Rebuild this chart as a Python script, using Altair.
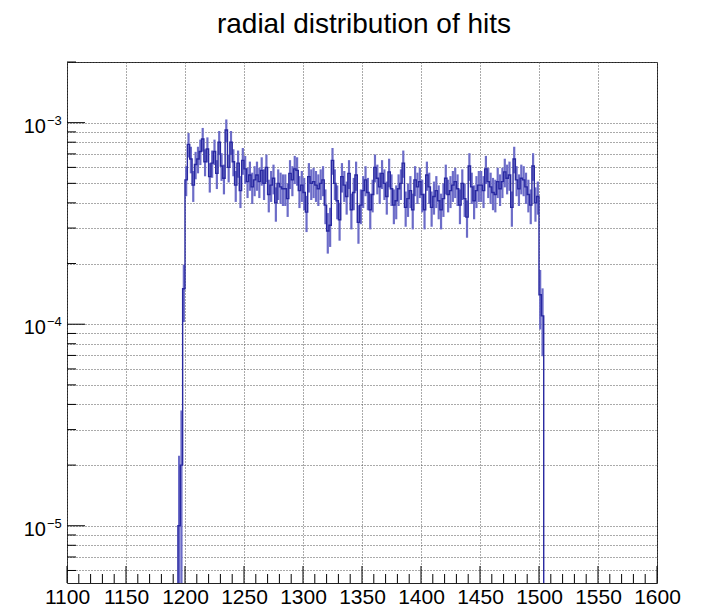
import altair as alt
import numpy as np
import pandas as pd

TITLE = "radial distribution of hits"

# histogram: bins of width 2 starting at 1194, contents in units of 1e-4
BIN_START = 1194.0
BIN_WIDTH = 2.0
UNIT = 1e-4
hits = [
    0.10, 0.20, 1.5,
    5.2, 7.8, 6.6, 4.9, 6.2, 6.6, 7.2, 8.3, 6.4, 7.4,
    5.4, 6.3, 7.2, 5.6, 8.0, 6.1, 5.3, 9.2, 6.0, 8.0,
    6.4, 4.9, 6.3, 4.6, 6.5, 5.9, 5.1, 5.5, 4.8, 5.2,
    5.5, 5.1, 5.8, 5.0, 6.0, 4.4, 4.9, 5.3, 4.0, 5.0,
    4.8, 4.7, 4.7, 4.2, 5.6, 5.2, 5.9, 5.8, 4.6, 4.9,
    4.5, 3.6, 5.4, 5.0, 5.1, 4.9, 4.7, 5.0, 5.2, 3.9,
    2.9, 3.1, 6.5, 5.0, 4.1, 3.3, 5.4, 4.9, 4.3, 5.6,
    3.7, 4.5, 5.5, 3.2, 3.9, 4.6, 5.2, 4.5, 3.7, 4.4,
    6.0, 5.3, 4.8, 5.6, 5.0, 4.3, 5.7, 4.7, 3.9, 4.1,
    4.7, 5.0, 6.3, 3.8, 4.2, 4.6, 3.7, 5.2, 4.8, 5.1,
    4.4, 3.7, 5.5, 4.8, 3.8, 4.3, 4.6, 4.1, 3.7, 4.2,
    5.3, 4.4, 4.6, 4.9, 5.1, 4.7, 3.9, 5.0, 4.2, 3.4,
    6.1, 4.8, 4.1, 4.6, 4.9, 4.9, 4.6, 5.9, 5.1, 4.8,
    4.5, 4.4, 5.1, 4.7, 5.1, 5.7, 5.3, 5.5, 3.8, 6.6,
    5.2, 4.7, 5.3, 5.2, 4.8, 4.4, 3.9, 6.1, 4.0, 4.3,
    1.4, 1.1,
]
HIT_WEIGHT = 1.5e-5   # per-hit normalisation, used for Poisson error bars
FLOOR = 1e-8          # below the axis range, clipped away

x_major = [1100, 1150, 1200, 1250, 1300, 1350, 1400, 1450, 1500, 1550, 1600]
x_minor = [1110, 1120, 1130, 1140, 1160, 1170, 1180, 1190, 1210, 1220, 1230, 1240,
           1260, 1270, 1280, 1290, 1310, 1320, 1330, 1340, 1360, 1370, 1380, 1390,
           1410, 1420, 1430, 1440, 1460, 1470, 1480, 1490, 1510, 1520, 1530, 1540,
           1560, 1570, 1580, 1590]
y_decades = [1e-3, 1e-4, 1e-5]
y_exponents = ["\u22123", "\u22124", "\u22125"]
y_minor = [6e-6, 7e-6, 8e-6, 9e-6,
           2e-5, 3e-5, 4e-5, 5e-5, 6e-5, 7e-5, 8e-5, 9e-5,
           2e-4, 3e-4, 4e-4, 5e-4, 6e-4, 7e-4, 8e-4, 9e-4, 2e-3]

W, H = 590, 521
FONT = "Liberation Sans"
LINE = "#2828a0"
ERR = "#6c6cc8"

xs = alt.Scale(domain=[1100, 1600], nice=False, zero=False)
ys = alt.Scale(type="log", domain=[5.2e-6, 2.0e-3], nice=False)

xaxis = alt.Axis(
    values=x_major, format="d", grid=True, gridDash=[1, 2], gridColor="#555",
    gridWidth=1, ticks=False, domain=False, labelFont=FONT, labelFontSize=21,
    labelColor="black", labelPadding=3, labelFlush=False, labelOverlap=False,
    title=None)
yaxis = alt.Axis(
    values=y_decades + y_minor, grid=True, gridDash=[1, 2], gridColor="#555",
    gridWidth=1, ticks=False, domain=False, labels=False, title=None)

v = np.array(hits) * UNIT
lo = BIN_START + BIN_WIDTH * np.arange(len(v))
err = np.sqrt(v * HIT_WEIGHT)
bins = pd.DataFrame({
    "center": lo + BIN_WIDTH / 2,
    "v": v,
    "elo": np.maximum(v - err, FLOOR),
    "ehi": v + err,
})

step_x = np.concatenate([[BIN_START - BIN_WIDTH], lo, [lo[-1] + BIN_WIDTH, lo[-1] + 2 * BIN_WIDTH]])
step_y = np.concatenate([[FLOOR], v, [FLOOR, FLOOR]])
step = pd.DataFrame({"x": step_x, "y": step_y, "o": np.arange(len(step_x))})

err_bars = alt.Chart(bins).mark_rule(color=ERR, strokeWidth=2.2, clip=True).encode(
    x=alt.X("center:Q", scale=xs, axis=xaxis),
    y=alt.Y("elo:Q", scale=ys, axis=yaxis),
    y2="ehi:Q",
)

step_line = alt.Chart(step).mark_line(
    interpolate="step-after", color=LINE, strokeWidth=1.4, clip=True
).encode(
    x=alt.X("x:Q", scale=xs, axis=xaxis),
    y=alt.Y("y:Q", scale=ys, axis=yaxis),
    order="o:Q",
)

xmaj = alt.Chart(pd.DataFrame({"t": x_major})).mark_rule(color="black").encode(
    x=alt.X("t:Q", scale=xs, axis=xaxis), y=alt.value(H), y2=alt.value(H - 17))
xmin = alt.Chart(pd.DataFrame({"t": x_minor})).mark_rule(color="black").encode(
    x=alt.X("t:Q", scale=xs, axis=xaxis), y=alt.value(H), y2=alt.value(H - 9))
ymaj = alt.Chart(pd.DataFrame({"t": y_decades})).mark_rule(color="black").encode(
    y=alt.Y("t:Q", scale=ys, axis=yaxis), x=alt.value(0), x2=alt.value(18))
ymin = alt.Chart(pd.DataFrame({"t": y_minor})).mark_rule(color="black").encode(
    y=alt.Y("t:Q", scale=ys, axis=yaxis), x=alt.value(0), x2=alt.value(9))

lab_df = pd.DataFrame({"t": y_decades, "base": ["10"] * 3, "e": y_exponents})
ylab_base = alt.Chart(lab_df).mark_text(
    font=FONT, fontSize=20, align="right", baseline="middle", dy=4, color="black"
).encode(y=alt.Y("t:Q", scale=ys, axis=yaxis), x=alt.value(-21), text="base:N")
ylab_exp = alt.Chart(lab_df).mark_text(
    font=FONT, fontSize=13, align="left", baseline="middle", dy=-2, color="black"
).encode(y=alt.Y("t:Q", scale=ys, axis=yaxis), x=alt.value(-20), text="e:N")

title = alt.Chart(pd.DataFrame({"t": [TITLE]})).mark_text(
    font=FONT, fontSize=28, align="center", baseline="alphabetic", color="black"
).encode(x=alt.value(W / 2 + 2), y=alt.value(-29), text="t:N")

chart = alt.layer(
    err_bars, step_line, xmin, xmaj, ymin, ymaj, ylab_base, ylab_exp, title
).properties(
    width=W, height=H,
    autosize=alt.AutoSizeParams(type="none"),
    padding={"left": 67, "top": 62, "right": 48, "bottom": 27},
    background="white",
).configure_view(stroke="#222", strokeWidth=1)

chart.save("out.html", embed_options={"renderer": "svg", "actions": False})
